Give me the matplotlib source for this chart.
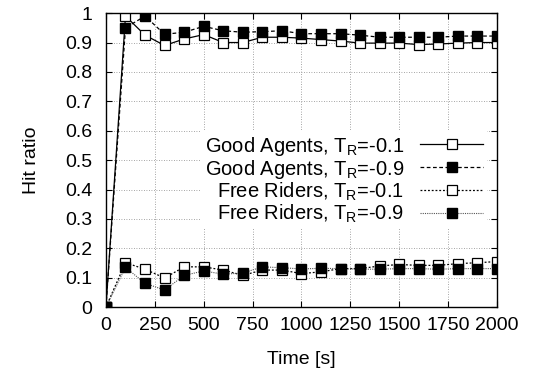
import matplotlib
matplotlib.use('Agg')
import matplotlib.pyplot as plt
import numpy as np

plt.rcParams['font.family'] = 'Liberation Sans'
plt.rcParams['mathtext.fontset'] = 'custom'
plt.rcParams['mathtext.rm'] = 'Liberation Sans'
plt.rcParams['font.size'] = 14

# time points [s]
time = [0, 100, 200, 300, 400, 500, 600, 700, 800, 900, 1000,
        1100, 1200, 1300, 1400, 1500, 1600, 1700, 1800, 1900, 2000]

good_01 = [0, 0.99, 0.925, 0.89, 0.912, 0.927, 0.90, 0.90, 0.918, 0.918, 0.915,
           0.91, 0.905, 0.898, 0.898, 0.898, 0.893, 0.895, 0.898, 0.90, 0.90]
good_09 = [0, 0.95, 0.99, 0.928, 0.935, 0.955, 0.94, 0.935, 0.937, 0.94, 0.93,
           0.93, 0.93, 0.925, 0.918, 0.918, 0.918, 0.918, 0.922, 0.922, 0.922]
free_01 = [0, 0.151, 0.129, 0.099, 0.137, 0.137, 0.126, 0.108, 0.126, 0.126, 0.114,
           0.12, 0.131, 0.131, 0.14, 0.145, 0.142, 0.142, 0.148, 0.151, 0.155]
free_09 = [0, 0.135, 0.081, 0.058, 0.108, 0.123, 0.112, 0.116, 0.137, 0.134, 0.13,
           0.132, 0.131, 0.129, 0.129, 0.131, 0.131, 0.129, 0.131, 0.131, 0.131]

labels = [r'Good Agents, T$_{\rm R}$=-0.1',
          r'Good Agents, T$_{\rm R}$=-0.9',
          r'Free Riders, T$_{\rm R}$=-0.1',
          r'Free Riders, T$_{\rm R}$=-0.9']

fig = plt.figure(figsize=(5.35, 3.75), dpi=100)
ax = fig.add_axes([0.198, 0.181, 0.731, 0.784])

ms = 7.5
ax.plot(time, good_01, color='black', lw=0.9, ls='-', marker='s', ms=ms,
        mfc='white', mec='black', mew=0.9, label=labels[0])
ax.plot(time, good_09, color='black', lw=0.9, ls=(0, (3, 2)), marker='s', ms=ms,
        mfc='black', mec='black', label=labels[1])
ax.plot(time, free_01, color='black', lw=0.9, ls=(0, (1.5, 1.5)), marker='s', ms=ms,
        mfc='white', mec='black', mew=0.9, label=labels[2])
ax.plot(time, free_09, color='#555555', lw=0.8, ls=(0, (1, 1)), marker='s', ms=ms,
        mfc='black', mec='black', label=labels[3])

ax.set_xlim(0, 2000)
ax.set_ylim(0, 1)
ax.set_xticks(np.arange(0, 2001, 250))
ax.set_yticks(np.arange(0, 1.01, 0.1))
ax.set_yticklabels(['0', '0.1', '0.2', '0.3', '0.4', '0.5', '0.6', '0.7', '0.8', '0.9', '1'])
ax.tick_params(direction='in', top=True, right=True, length=4, width=0.8)
ax.tick_params(axis='y', pad=10)
ax.tick_params(axis='x', pad=7)
ax.grid(True, color='#888888', ls=(0, (1, 2)), lw=0.6)
for s in ax.spines.values():
    s.set_linewidth(1.0)

ax.set_xlabel('Time [s]', labelpad=12)
ax.set_ylabel('Hit ratio', labelpad=18)

leg = ax.legend(loc='upper right', bbox_to_anchor=(1.0, 0.635), markerfirst=False,
                frameon=True, fancybox=False, edgecolor='none', framealpha=1,
                handlelength=3.1, labelspacing=0.0, borderpad=0.2,
                handletextpad=0.8, fontsize=14.5)

fig.savefig('out.png', dpi=100)
